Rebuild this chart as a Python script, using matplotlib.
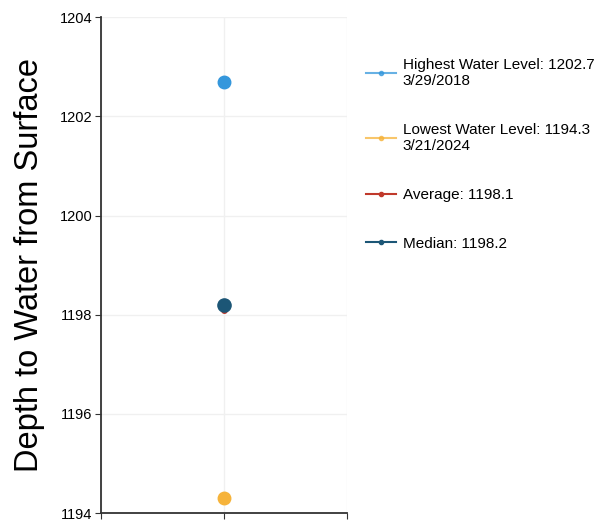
import matplotlib
matplotlib.use('Agg')
import matplotlib.pyplot as plt
from matplotlib.lines import Line2D

plt.rcParams['font.family'] = ['Liberation Sans', 'DejaVu Sans']

# ---------------------------------------------------------------- #
#                    water level summary values                     #
# ---------------------------------------------------------------- #

labels = ['Highest Water Level: 1202.7\n3/29/2018',
          'Lowest Water Level: 1194.3\n3/21/2024',
          'Average: 1198.1',
          'Median: 1198.2']
values = [1202.7, 1194.3, 1198.1, 1198.2]
colors = ['#3497dc', '#f6b33a', '#c0392b', '#1c5676']
yticks = [1194, 1196, 1198, 1200, 1202, 1204]

fig = plt.figure(figsize=(6.05, 5.23), dpi=100)
ax = fig.add_axes([0.167, 0.019, 0.407, 0.948])

# average sits under the median dot (only a sliver shows in the original)
sizes = [9, 9, 4, 9.5]
zorders = [3, 3, 2, 4]
for v, c, s, z in zip(values, colors, sizes, zorders):
    ax.plot([0], [v], marker='o', markersize=s, color=c, linestyle='None', zorder=z)

ax.set_xlim(-1, 1)
ax.set_ylim(1194, 1204)
ax.set_xticks([-1, 0, 1])
ax.set_xticklabels([])
ax.set_yticks(yticks)
ax.tick_params(axis='both', length=4, width=0.8, color='#333333', labelsize=10.5, pad=2)
ax.grid(True, color='#f0f0f0', linewidth=1)
ax.set_axisbelow(True)
for s in ['top', 'right']:
    ax.spines[s].set_visible(False)
ax.spines['left'].set_color('#333333')
ax.spines['bottom'].set_color('#333333')
ax.spines['left'].set_linewidth(1.3)
ax.spines['bottom'].set_linewidth(1.3)

ax.set_ylabel('Depth to Water from Surface', fontsize=23.5, labelpad=11)

alphas = [0.75, 0.75, 1, 1]
handles = [Line2D([0], [0], color=c, marker='o', markersize=3, linewidth=1.5, alpha=a)
           for c, a in zip(colors, alphas)]
fig.legend(handles, labels, loc='upper left', bbox_to_anchor=(0.582, 0.915),
           frameon=False, fontsize=11, labelspacing=2.27, handlelength=2.0,
           handletextpad=0.4)

plt.savefig('out.png', dpi=100)
plt.close()
